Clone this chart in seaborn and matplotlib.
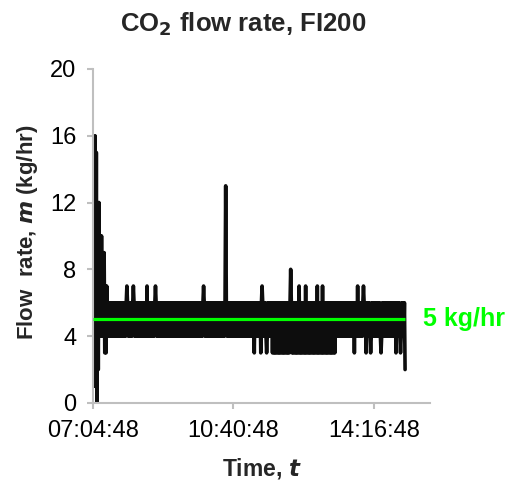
import numpy as np
import pandas as pd
import matplotlib
matplotlib.use("Agg")
import matplotlib.pyplot as plt
import matplotlib.dates as mdates
import seaborn as sns

# ---- logged data -------------------------------------------------------
start_clock = "07:04:48"
end_of_axis_clock = "15:43:12"
n_minutes = 481                 # one reading per minute
band_low, band_high = 4, 6      # normal swing of the controller output
setpoint = 5
setpoint_label = "5 kg/hr"

# start-up transient (minute after start -> reading)
startup_minutes = [0, 1, 2, 3, 4, 5, 6, 7, 8, 9, 10, 11, 12, 13, 14, 15, 16, 17, 18, 19, 20, 21, 22]
startup_values = [4, 6, 1, 16, 1, 15, 0, 12, 2, 12, 4, 10, 4, 10, 4, 9, 4, 9, 3, 7, 3, 7, 4]

# isolated high readings
spike_minutes = [52, 62, 83, 96, 170, 204, 260, 304, 317, 327, 345, 353, 407, 416]
spike_values = [7, 7, 7, 7, 7, 13, 7, 8, 7, 7, 7, 7, 7, 7]

# isolated low readings
dip_minutes = [248, 258, 267, 402, 420, 427, 443, 466, 473, 480]
dip_values = [3, 3, 3, 3, 3, 3, 3, 3, 3, 2]

# period in which the low swing reaches 3 kg/hr
low_window_start, low_window_end, low_window_value = 276, 372, 3

y_ticks = [0, 4, 8, 12, 16, 20]
x_tick_labels = ["07:04:48", "10:40:48", "14:16:48"]

# ---- build the series --------------------------------------------------
minutes = np.arange(n_minutes)
flow = np.where(minutes % 2 == 0, band_low, band_high).astype(float)
in_window = (minutes >= low_window_start) & (minutes <= low_window_end) & (minutes % 2 == 0)
flow[in_window] = low_window_value
flow[startup_minutes] = startup_values
flow[spike_minutes] = spike_values
flow[dip_minutes] = dip_values

day = "2000-01-01 "
t0 = pd.Timestamp(day + start_clock)
df = pd.DataFrame({"time": t0 + pd.to_timedelta(minutes, unit="min"), "flow": flow})

# ---- figure ------------------------------------------------------------
sns.set_theme(style="white")
plt.rcParams["font.family"] = ["Liberation Sans", "DejaVu Sans"]

fig = plt.figure(figsize=(5.2, 4.82), dpi=100)
ax = fig.add_axes([0.179, 0.164, 0.648, 0.693])

sns.lineplot(data=df, x="time", y="flow", ax=ax, color="#0d0d0d", lw=2.6,
             estimator=None, sort=False, legend=False)
for ln in ax.lines:
    ln.set_solid_capstyle("round")
    ln.set_solid_joinstyle("round")

ax.hlines(setpoint, df["time"].min(), df["time"].max(), color="#00ff00", lw=2.3, zorder=5)
ax.annotate(setpoint_label, xy=(df["time"].max(), setpoint), xytext=(13, 0),
            textcoords="offset points", ha="left", va="center",
            color="#00ff00", fontsize=18, fontweight="bold", annotation_clip=False)

ax.set_ylim(y_ticks[0], y_ticks[-1])
ax.set_yticks(y_ticks)
tick_times = [pd.Timestamp(day + s) for s in x_tick_labels]
ax.set_xlim(t0, pd.Timestamp(day + end_of_axis_clock))
ax.set_xticks(tick_times)
ax.xaxis.set_major_formatter(mdates.DateFormatter("%H:%M:%S"))

for side in ["top", "right"]:
    ax.spines[side].set_visible(False)
for side in ["left", "bottom"]:
    ax.spines[side].set_color("#bfbfbf")
    ax.spines[side].set_linewidth(1.5)
ax.tick_params(axis="both", which="major", direction="out", length=4, width=1.5,
               color="#bfbfbf", labelsize=17, labelcolor="black", pad=8)
ax.tick_params(axis="x", bottom=True)
ax.tick_params(axis="y", left=True)
ax.grid(False)

ax.set_xlabel("Time, $\\mathbfit{t}$", fontsize=16.5, fontweight="bold", labelpad=10)
ax.set_ylabel("")
fig.text(0.052, 0.519, "Flow  rate, $\\mathbfit{m}$ (kg/hr)", rotation=90,
         ha="center", va="center", fontsize=16, fontweight="bold")
fig.text(0.468, 0.949, "CO$_\\mathbf{2}$ flow rate, FI200", ha="center", va="center",
         fontsize=18.5, fontweight="bold")

fig.savefig("out.png", dpi=100, facecolor="white")
